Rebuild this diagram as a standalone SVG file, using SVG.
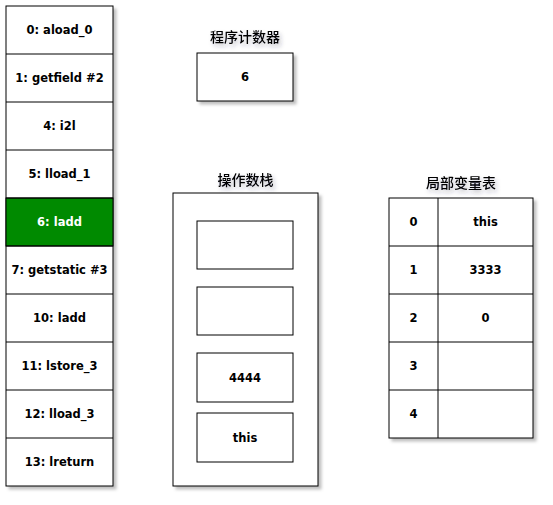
<svg xmlns="http://www.w3.org/2000/svg" width="553" height="505" viewBox="0 0 553 505">
<style>
.b{fill:#fff;stroke:#000;stroke-width:1}
.t{font-family:"DejaVu Sans","Noto Sans CJK SC",sans-serif;font-size:11.5px;font-weight:bold;text-anchor:middle;dominant-baseline:central;fill:#000}
.c{font-family:"Noto Sans CJK SC",sans-serif;font-size:14px;font-weight:500;text-anchor:middle;dominant-baseline:central;fill:#000}
.w{fill:#fff}
</style>
<defs>
<filter id="sh" x="-10%" y="-10%" width="130%" height="130%">
<feDropShadow dx="3" dy="3" stdDeviation="1.5" flood-color="#000" flood-opacity="0.25"/>
</filter>
<filter id="ts" x="-20%" y="-50%" width="140%" height="200%">
<feDropShadow dx="2" dy="3" stdDeviation="2" flood-color="#334" flood-opacity="0.3"/>
</filter>
</defs>
<rect width="553" height="505" fill="#fff"/>
<g id="bytecode" filter="url(#sh)">
<rect class="b" x="6" y="6" width="107" height="480"/>
</g>
<g id="bytecode-rows">
<rect x="6" y="198" width="107" height="48" fill="#008a00" stroke="#000"/>
<g stroke="#000"><line x1="6" y1="54" x2="113" y2="54"/><line x1="6" y1="102" x2="113" y2="102"/><line x1="6" y1="150" x2="113" y2="150"/><line x1="6" y1="198" x2="113" y2="198"/><line x1="6" y1="246" x2="113" y2="246"/><line x1="6" y1="294" x2="113" y2="294"/><line x1="6" y1="342" x2="113" y2="342"/><line x1="6" y1="390" x2="113" y2="390"/><line x1="6" y1="438" x2="113" y2="438"/></g>
<text class="t" x="59.5" y="30">0: aload_0</text>
<text class="t" x="59.5" y="78">1: getfield #2</text>
<text class="t" x="59.5" y="126">4: i2l</text>
<text class="t" x="59.5" y="174">5: lload_1</text>
<text class="t w" x="59.5" y="222">6: ladd</text>
<text class="t" x="59.5" y="270">7: getstatic #3</text>
<text class="t" x="59.5" y="318">10: ladd</text>
<text class="t" x="59.5" y="366">11: lstore_3</text>
<text class="t" x="59.5" y="414">12: lload_3</text>
<text class="t" x="59.5" y="462">13: lreturn</text>
</g>
<g id="pc-label"><text class="c" x="245" y="36" filter="url(#ts)">程序计数器</text></g>
<g id="pc"><rect class="b" x="197" y="53" width="96" height="48" filter="url(#sh)"/><text class="t" x="245" y="77">6</text></g>
<g id="stack-label"><text class="c" x="245.5" y="179" filter="url(#ts)">操作数栈</text></g>
<g id="stack"><rect class="b" x="173" y="193" width="145" height="293" filter="url(#sh)"/>
<rect class="b" x="197" y="221" width="96" height="48"/>
<rect class="b" x="197" y="287" width="96" height="48"/>
<rect class="b" x="197" y="353" width="96" height="49"/>
<text class="t" x="245" y="378">4444</text>
<rect class="b" x="197" y="413" width="96" height="49"/>
<text class="t" x="245" y="438">this</text>
</g>
<g id="locals-label"><text class="c" x="461" y="182" filter="url(#ts)">局部变量表</text></g>
<g id="locals">
<rect class="b" x="389" y="198" width="144" height="240" filter="url(#sh)"/>
<g stroke="#000"><line x1="438" y1="198" x2="438" y2="438"/><line x1="389" y1="246" x2="533" y2="246"/><line x1="389" y1="294" x2="533" y2="294"/><line x1="389" y1="342" x2="533" y2="342"/><line x1="389" y1="390" x2="533" y2="390"/></g>
<text class="t" x="413.5" y="222">0</text><text class="t" x="485.5" y="222">this</text>
<text class="t" x="413.5" y="270">1</text><text class="t" x="485.5" y="270">3333</text>
<text class="t" x="413.5" y="318">2</text><text class="t" x="485.5" y="318">0</text>
<text class="t" x="413.5" y="366">3</text>
<text class="t" x="413.5" y="414">4</text>
</g>
<g id="connectors"/>
</svg>
